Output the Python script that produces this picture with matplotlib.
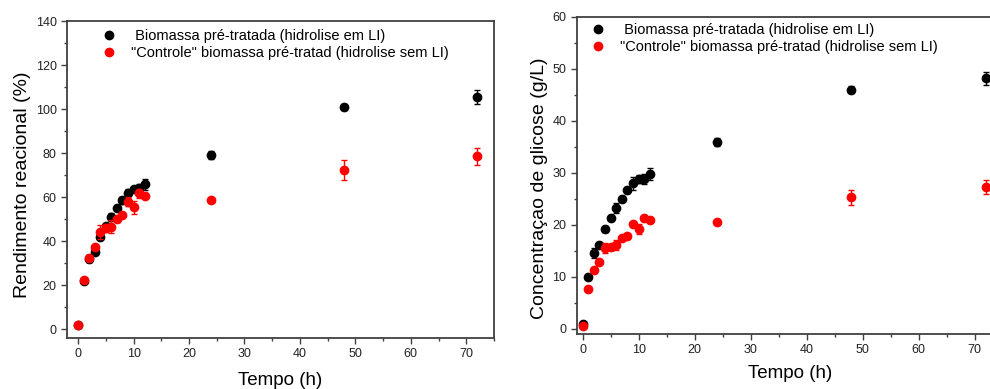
import matplotlib
matplotlib.use("Agg")
import matplotlib.pyplot as plt
from matplotlib.ticker import MultipleLocator

plt.rcParams["font.family"] = ["Liberation Sans", "DejaVu Sans"]

# time points (h)
tempo = [0, 1, 2, 3, 4, 5, 6, 7, 8, 9, 10, 11, 12, 24, 48, 72]

# Rendimento reacional (%)
rend_li = [2, 21.8, 32, 35, 42, 47, 51, 55, 58.6, 61.8, 63.5, 64, 65.8, 79, 101, 105.5]
rend_li_err = [0.5, 0.8, 1.5, 1, 1.2, 1, 2, 1, 1.5, 2, 1, 2, 2.5, 1.8, 1.5, 3]
rend_ctrl = [2, 22.3, 32.5, 37.4, 44.2, 46, 46.5, 50, 51.8, 58, 55.3, 61.7, 60.5, 58.7, 72.5, 78.5]
rend_ctrl_err = [0.5, 0.8, 1, 1, 3, 2, 3, 1, 1, 2, 3, 2, 1, 0.5, 4.5, 4]

# Concentracao de glicose (g/L)
glic_li = [1.0, 9.9, 14.6, 16.1, 19.2, 21.4, 23.2, 25, 26.7, 28, 28.8, 28.8, 29.8, 36, 46, 48.2]
glic_li_err = [0.3, 0.4, 1, 0.4, 0.5, 0.4, 1, 0.5, 0.6, 1.2, 0.8, 1, 1.2, 0.8, 0.7, 1.3]
glic_ctrl = [0.6, 7.6, 11.3, 12.9, 15.5, 15.8, 16.1, 17.4, 17.9, 20.2, 19.2, 21.4, 21, 20.5, 25.3, 27.3]
glic_ctrl_err = [0.2, 0.3, 0.3, 0.3, 1, 0.6, 1, 0.4, 0.4, 0.4, 1, 0.4, 0.3, 0.3, 1.5, 1.3]

label_li = " Biomassa pré-tratada (hidrolise em LI)"
label_ctrl = "\"Controle\" biomassa pré-tratad (hidrolise sem LI)"

spine_color = "#404040"


def style_axes(ax, ymajor, yminor):
    for s in ax.spines.values():
        s.set_color(spine_color)
        s.set_linewidth(1.3)
    ax.xaxis.set_major_locator(MultipleLocator(10))
    ax.xaxis.set_minor_locator(MultipleLocator(5))
    ax.yaxis.set_major_locator(MultipleLocator(ymajor))
    ax.yaxis.set_minor_locator(MultipleLocator(yminor))
    ax.tick_params(which="both", direction="out", color=spine_color,
                   labelsize=9, labelcolor="#222222", top=False, right=False)
    ax.tick_params(which="major", length=4, width=1)
    ax.tick_params(which="minor", length=2.5, width=1)


def draw(ax, y1, e1, y2, e2, legend_xy):
    eb1 = ax.errorbar(tempo, y1, yerr=e1, fmt="o", color="black", ms=6,
                      elinewidth=1, capsize=2.5, capthick=1, zorder=3)
    eb2 = ax.errorbar(tempo, y2, yerr=e2, fmt="o", color="#ff0000", ms=6,
                      elinewidth=1, capsize=2.5, capthick=1, zorder=4)
    # legend shows only the dots, no error bars
    ax.legend([eb1.lines[0], eb2.lines[0]], [label_li, label_ctrl],
              loc="upper left", frameon=False, fontsize=10.5,
              handlelength=1.0, handletextpad=1.0, borderaxespad=0.0,
              labelspacing=0.24, bbox_to_anchor=legend_xy)


fig = plt.figure(figsize=(9.9, 3.89), dpi=100)

ax1 = fig.add_axes([0.0677, 0.131, 0.4313, 0.815])
draw(ax1, rend_li, rend_li_err, rend_ctrl, rend_ctrl_err, (0.068, 0.994))
ax1.set_xlim(-2, 75)
ax1.set_ylim(-4, 140)
style_axes(ax1, 20, 10)
ax1.set_ylabel("Rendimento reacional (%)", fontsize=14, labelpad=3)
ax1.yaxis.label.set_y(0.483)
ax1.set_xlabel("Tempo (h)", fontsize=13.5, labelpad=8)

ax2 = fig.add_axes([0.5828, 0.1414, 0.430, 0.815])
draw(ax2, glic_li, glic_li_err, glic_ctrl, glic_ctrl_err, (0.019, 1.0))
ax2.set_xlim(-1, 75)
ax2.set_ylim(-1, 60)
style_axes(ax2, 10, 5)
ax2.set_ylabel("Concentraçao de glicose (g/L)", fontsize=14, labelpad=3)
ax2.yaxis.label.set_y(0.46)
ax2.set_xlabel("Tempo (h)", fontsize=13.5, labelpad=6)

fig.savefig("out.png", dpi=100)
